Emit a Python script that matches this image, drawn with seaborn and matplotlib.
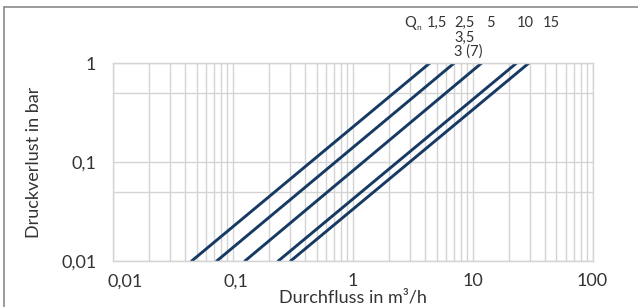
import matplotlib
matplotlib.use("Agg")
import matplotlib.pyplot as plt
import matplotlib.transforms as mtransforms
import seaborn as sns
import pandas as pd
import numpy as np
from matplotlib.lines import Line2D
from matplotlib.ticker import FixedLocator, LogLocator, NullFormatter

# Data: nominal flows and flow at 0.01 bar and at 1 bar
qn_labels = ["1,5", "2,5", "5", "10", "15"]
flow_at_001 = [0.0453, 0.0733, 0.126, 0.239, 0.303]
flow_at_1 = [4.40, 7.03, 11.9, 23.3, 29.5]
pressure_ends = [0.01, 1.0]

x_ticks = [0.01, 0.1, 1, 10, 100]
x_ticklabels = ["0,01", "0,1", "1", "10", "100"]
y_ticks = [0.01, 0.1, 1]
y_ticklabels = ["0,01", "0,1", "1"]
y_minor = [0.05, 0.5]

rows = []
for lab, a, b in zip(qn_labels, flow_at_001, flow_at_1):
    rows.append({"Qn": lab, "flow": a, "dp": pressure_ends[0]})
    rows.append({"Qn": lab, "flow": b, "dp": pressure_ends[1]})
df = pd.DataFrame(rows)

sns.set_theme(style="white")
plt.rcParams["font.family"] = ["Lato", "DejaVu Sans"]

W, H = 638, 307
fig = plt.figure(figsize=(W / 100, H / 100), dpi=100)
ax = fig.add_axes([113 / W, 1 - 261 / H, (592.5 - 113) / W, (261 - 63) / H])

line_color = "#163a63"
sns.lineplot(data=df, x="flow", y="dp", hue="Qn", palette=[line_color] * 5,
             legend=False, ax=ax, linewidth=2.1, sort=False)

ax.set_xscale("log")
ax.set_yscale("log")
ax.set_xlim(0.01, 100)
ax.set_ylim(0.01, 1)

ax.xaxis.set_major_locator(FixedLocator(x_ticks))
ax.set_xticklabels(x_ticklabels)
ax.xaxis.set_minor_locator(LogLocator(base=10, subs=np.arange(2, 10)))
ax.xaxis.set_minor_formatter(NullFormatter())
ax.yaxis.set_major_locator(FixedLocator(y_ticks))
ax.set_yticklabels(y_ticklabels)
ax.yaxis.set_minor_locator(FixedLocator(y_minor))
ax.yaxis.set_minor_formatter(NullFormatter())

grid_c = "#d4d4d4"
ax.grid(True, which="both", axis="both", color=grid_c, linewidth=1.0)
ax.set_axisbelow(True)
for s in ax.spines.values():
    s.set_color(grid_c)
    s.set_linewidth(1.0)

text_c = "#333333"
fs_ax = 13
ax.tick_params(axis="both", which="both", length=0, labelsize=fs_ax, colors=text_c)
ax.tick_params(axis="x", pad=9)
ax.tick_params(axis="y", pad=12)

# shift the first x tick labels slightly right, as in the reference
xt = ax.get_xticklabels()
offsets = [12, 3, 0, 0, 0]
for lbl, dx in zip(xt, offsets):
    if dx:
        lbl.set_transform(lbl.get_transform() +
                          mtransforms.ScaledTranslation(dx / 100, 0, fig.dpi_scale_trans))

ax.set_xlabel("Durchfluss in m³/h", fontsize=fs_ax, color=text_c, labelpad=0)
ax.set_ylabel("Druckverlust in bar", fontsize=fs_ax, color=text_c, labelpad=14)

# Qn labels above the chart
fs = 10.5
fig.text(404 / W, 1 - 23 / H, "Q", fontsize=fs, color=text_c, va="center", ha="left")
fig.text(416 / W, 1 - 27 / H, "n", fontsize=6, color=text_c, va="center", ha="left")
label_x = [427, 454, 486, 517, 543]
for lab, px in zip(qn_labels, label_x):
    fig.text(px / W, 1 - 23 / H, lab, fontsize=fs, color=text_c, va="center", ha="left")
fig.text(454 / W, 1 - 38 / H, "3,5", fontsize=fs, color=text_c, va="center", ha="left")
fig.text(454 / W, 1 - 52 / H, "3 (7)", fontsize=fs, color=text_c, va="center", ha="left")

# outer frame lines (top and left)
frame_c = "#8a8a8a"
fig.add_artist(Line2D([4 / W, 1], [1 - 7 / H, 1 - 7 / H], transform=fig.transFigure,
                      color=frame_c, linewidth=1.2))
fig.add_artist(Line2D([4 / W, 4 / W], [0, 1 - 7 / H], transform=fig.transFigure,
                      color=frame_c, linewidth=1.2))

fig.savefig("out.png", dpi=100)
